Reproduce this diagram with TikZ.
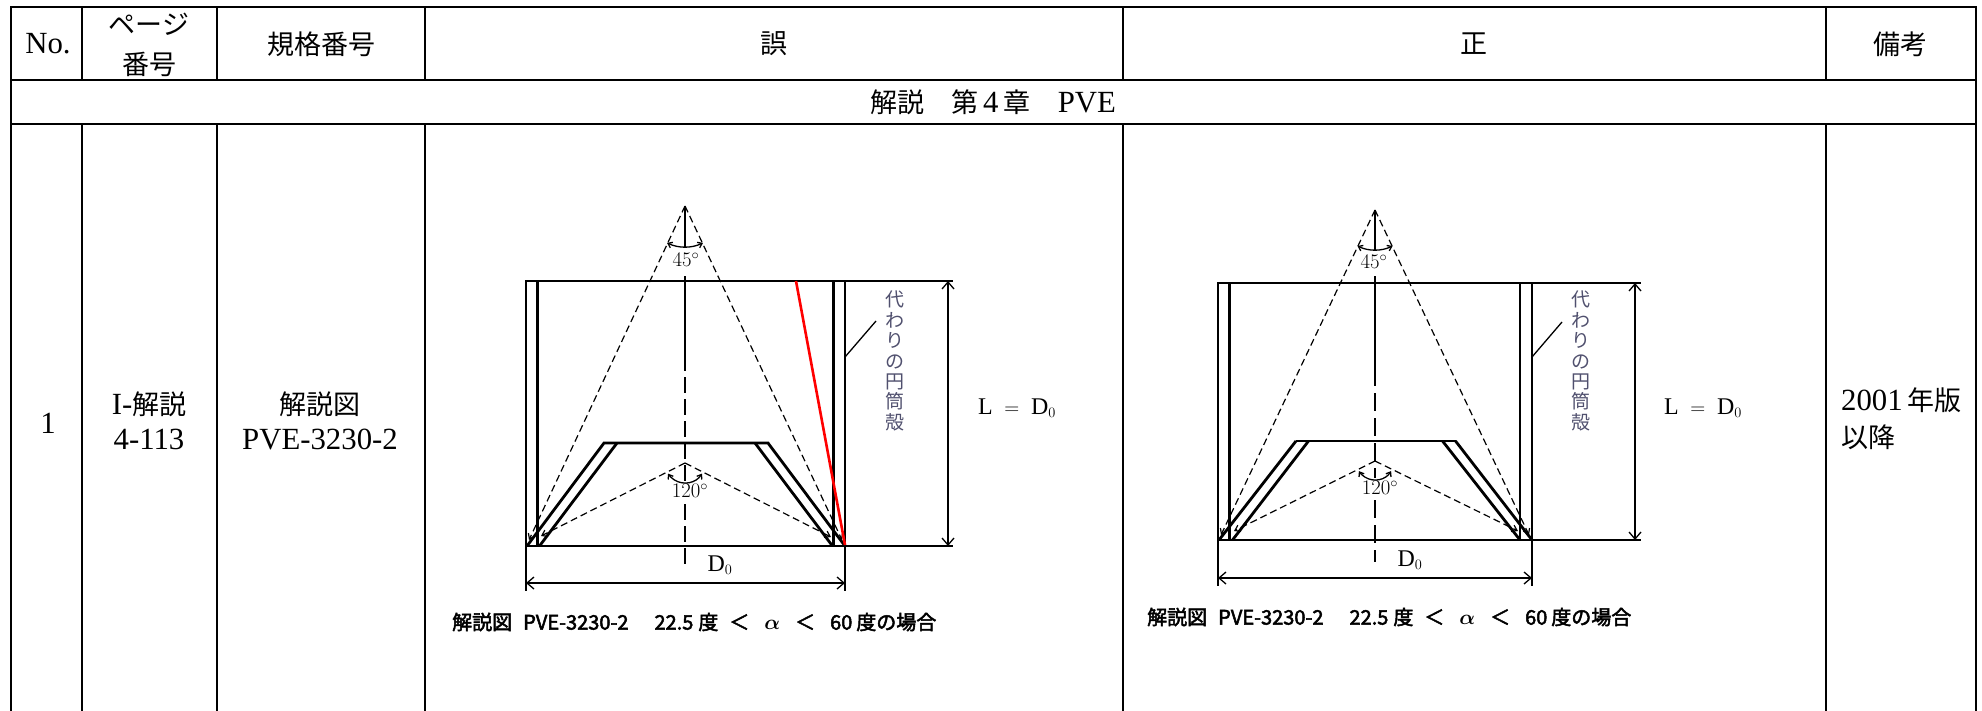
\documentclass[tikz,border=0pt]{standalone}
\usepackage{fontspec}
\setmainfont[Scale=1.14]{Liberation Serif}
\newfontfamily\jp{Noto Sans CJK JP}
\newfontfamily\jpb[FakeBold=2.5]{Noto Sans CJK JP}
\usetikzlibrary{arrows.meta}
\definecolor{slate}{RGB}{80,80,110}
\tikzset{
  gridline/.style={line width=2.4pt, line cap=rect},
  thk/.style={line width=2.8pt, line join=miter},
  midline/.style={line width=1.8pt},
  thn/.style={line width=1.3pt},
  dsh/.style={line width=1.2pt, dash pattern=on 7pt off 4pt},
  endtip/.style={-{Straight Barb[length=5pt,width=7pt]}},
  atip/.style={{Straight Barb[length=4pt,width=6pt]}-{Straight Barb[length=4pt,width=6pt]}},
  dimline/.style={line width=1.3pt, {Straight Barb[length=7pt,width=12pt]}-{Straight Barb[length=7pt,width=12pt]}},
  cell/.style={font=\fontsize{27}{35}\selectfont, align=center, inner sep=0pt},
  lbl/.style={font=\fontsize{21}{25}\selectfont, inner sep=0pt},
  captext/.style={font=\jpb\fontsize{20}{24}\selectfont\boldmath, anchor=west, inner sep=0pt},
  vtext/.style={font=\jp\fontsize{19}{20.4}\selectfont, text=slate, align=center, inner sep=0pt},
}
\begin{document}
\begin{tikzpicture}[x=1pt,y=-1pt]
\useasboundingbox (0,0) rectangle (1982,710);
% ---------------- table grid
\draw[gridline] (11,7) -- (1976,7);
\draw[gridline] (11,80) -- (1976,80);
\draw[gridline] (11,124) -- (1976,124);
\draw[gridline] (11,7) -- (11,710);
\draw[gridline] (1976,7) -- (1976,710);
\foreach \x in {82,217,425,1123,1826}{
  \draw[gridline] (\x,7) -- (\x,80);
  \draw[gridline] (\x,124) -- (\x,710);
}
% ---------------- header texts
\node[cell] (hno) at (48,44) {No.};
\node[cell] (hpg1) at (149,24) {\jp ページ};
\node[cell] (hpg2) at (149,64) {\jp 番号};
\node[cell] (hstd) at (321,44) {\jp 規格番号};
\node[cell] (hwrong) at (774,44) {\jp 誤};
\node[cell] (hright) at (1474,44) {\jp 正};
\node[cell] (hnote) at (1900,44) {\jp 備考};
\node[cell] (sect) at (993,102) {{\jp 解説}\hspace{27pt}{\jp 第}\,4\,{\jp 章}\hspace{27pt}PVE};
% ---------------- row 1 texts
\node[cell] (rno) at (48,423) {1};
\node[cell] (rpg1) at (149,404) {I-{\jp 解説}};
\node[cell] (rpg2) at (149,439) {4-113};
\node[cell] (rstd1) at (320,404) {\jp 解説図};
\node[cell] (rstd2) at (320,439) {PVE-3230-2};
\node[cell, anchor=west] (rnote1) at (1841,400) {2001\,{\jp 年版}};
\node[cell, anchor=west] (rnote2) at (1841,437) {\jp 以降};

% ================= LEFT FIGURE (wrong)
\coordinate (LA) at (685,206);
\coordinate (LTL) at (526,281);
\coordinate (LTR) at (845,281);
\coordinate (LBL) at (526,546);
\coordinate (LBR) at (845,546);
\coordinate (LWLt) at (537.5,281);
\coordinate (LWLb) at (537.5,546);
\coordinate (LWRt) at (833.5,281);
\coordinate (LWRb) at (833.5,546);
\draw[thk] (LTL) rectangle (LBR);
\draw[thk] (LWLt) -- (LWLb);
\draw[thk] (LWRt) -- (LWRb);
% cone
\coordinate (LCo1) at (604,443);
\coordinate (LCo2) at (768,443);
\coordinate (LCi1) at (617,443);
\coordinate (LCi2) at (755,443);
\coordinate (LCb1) at (527,546);
\coordinate (LCb2) at (539.5,546);
\coordinate (LCb3) at (832.5,546);
\coordinate (LCb4) at (845,546);
\draw[thk] (LCb1) -- (LCo1) -- (LCo2) -- (LCb4);
\draw[thk] (LCb2) -- (LCi1);
\draw[thk] (LCb3) -- (LCi2);
% 45 deg dashed lines
\draw[dsh, endtip] (LA) -- (529,540);
\draw[dsh, endtip] (LA) -- (842,540);
% 120 deg
\coordinate (LB) at (685,463);
\draw[dsh, endtip] (LB) -- (541,536);
\draw[dsh, endtip] (LB) -- (831,537);
% axis
\draw[line width=2.4pt] (LA) -- (685,248);
\draw[line width=2.4pt] (685,276) -- (685,355);
\draw[line width=2.4pt, dash pattern=on 16pt off 6pt] (685,355) -- (685,481);
\draw[line width=2.4pt, dash pattern=on 16pt off 6pt] (685,504) -- (685,567);
% arcs
\draw[thn, atip] ([shift={(64:41)}]LA) arc[start angle=64, end angle=116, radius=41];
\node[lbl] (L45) at (686,260) {$45^\circ$};
\draw[thn, atip] ([shift={(32:20)}]LB) arc[start angle=32, end angle=148, radius=20];
\node[lbl] (L120) at (690,491) {$120^\circ$};
% leader and vertical text
\coordinate (LLd) at (845,357);
\node[vtext] (Lvt) at (895,361) {代\\わ\\り\\の\\円\\筒\\殻};
\coordinate (LLe) at (876,321);
\draw[thn] (LLd) -- (LLe);
% L dimension
\coordinate (LDt) at (948,281);
\coordinate (LDb) at (948,546);
\draw[thn] (LTR) -- (953,281);
\draw[thn] (LBR) -- (953,546);
\draw[dimline] (LDt) -- (LDb);
\node[lbl] (LLeq) at (1017,408) {$\mathrm{L}\ =\ \mathrm{D}_0$};
% D0 dimension
\draw[thn] (LBL) -- (526,591);
\draw[thn] (LBR) -- (845,591);
\coordinate (LD0a) at (526,583);
\coordinate (LD0b) at (845,583);
\draw[dimline] (LD0a) -- (LD0b);
\node[lbl] (LD0) at (720,565) {$\mathrm{D}_0$};
% red line
\coordinate (LRt) at (796,281);
\coordinate (LRb) at (845,545);
\draw[red, line width=2.6pt] (LRt) -- (LRb);
% caption
\node[captext] (Lcap) at (452,622) {解説図\hspace{11pt}PVE-3230-2\hspace{26pt}22.5\hspace{5pt}度\hspace{11pt}＜\hspace{15pt}$\alpha$\hspace{15pt}＜\hspace{15pt}60\hspace{4pt}度の場合};

% ================= RIGHT FIGURE (correct)
\coordinate (RA) at (1375,210);
\coordinate (RTL) at (1218,283);
\coordinate (RTR) at (1532,283);
\coordinate (RBL) at (1218,540);
\coordinate (RBR) at (1532,540);
\coordinate (RWLt) at (1229.5,283);
\coordinate (RWLb) at (1229.5,540);
\coordinate (RWRt) at (1520,283);
\coordinate (RWRb) at (1520,540);
\draw[thk] (RTL) rectangle (RBR);
\draw[thk] (RWLt) -- (RWLb);
\draw[thk] (RWRt) -- (RWRb);
% cone
\coordinate (RCo1) at (1296,441);
\coordinate (RCo2) at (1455.5,441);
\coordinate (RCi1) at (1308.5,441);
\coordinate (RCi2) at (1442.5,441);
\coordinate (RCb1) at (1219,540);
\coordinate (RCb2) at (1232.5,540);
\coordinate (RCb3) at (1520,540);
\coordinate (RCb4) at (1532,540);
\draw[midline] (RCo1) -- (RCo2);
\draw[thk] (RCb1) -- (RCo1);
\draw[thk] (RCb2) -- (RCi1);
\draw[thk] (RCb3) -- (RCi2);
\draw[thk] (RCb4) -- (RCo2);
% 45 deg dashed lines
\draw[dsh, endtip] (RA) -- (1221,535);
\draw[dsh, endtip] (RA) -- (1529,535);
% 120 deg
\coordinate (RB) at (1375,461);
\draw[dsh, endtip] (RB) -- (1234,531);
\draw[dsh, endtip] (RB) -- (1518,531);
% axis
\draw[thn] (RA) -- (1375,251);
\draw[thn] (1375,276) -- (1375,368);
\draw[thn, dash pattern=on 18pt off 7pt] (1375,368) -- (1375,478);
\draw[thn, dash pattern=on 18pt off 7pt] (1375,500) -- (1375,562);
% arcs
\draw[thn, atip] ([shift={(64:40)}]RA) arc[start angle=64, end angle=116, radius=40];
\node[lbl] (R45) at (1374,262) {$45^\circ$};
\draw[thn, atip] ([shift={(32:19)}]RB) arc[start angle=32, end angle=148, radius=19];
\node[lbl] (R120) at (1380,488) {$120^\circ$};
% leader and vertical text
\coordinate (RLd) at (1532,357);
\coordinate (RLe) at (1562,322);
\draw[thn] (RLd) -- (RLe);
\node[vtext] (Rvt) at (1581,361) {代\\わ\\り\\の\\円\\筒\\殻};
% L dimension
\coordinate (RDt) at (1635,283);
\coordinate (RDb) at (1635,540);
\draw[thn] (RTR) -- (1641,283);
\draw[thn] (RBR) -- (1641,540);
\draw[dimline] (RDt) -- (RDb);
\node[lbl] (RLeq) at (1703,408) {$\mathrm{L}\ =\ \mathrm{D}_0$};
% D0 dimension
\draw[thn] (RBL) -- (1218,586);
\draw[thn] (RBR) -- (1532,586);
\coordinate (RD0a) at (1218,578);
\coordinate (RD0b) at (1532,578);
\draw[dimline] (RD0a) -- (RD0b);
\node[lbl] (RD0) at (1410,560) {$\mathrm{D}_0$};
% caption
\node[captext] (Rcap) at (1147,617) {解説図\hspace{11pt}PVE-3230-2\hspace{26pt}22.5\hspace{5pt}度\hspace{11pt}＜\hspace{15pt}$\alpha$\hspace{15pt}＜\hspace{15pt}60\hspace{4pt}度の場合};
\end{tikzpicture}
\end{document}
